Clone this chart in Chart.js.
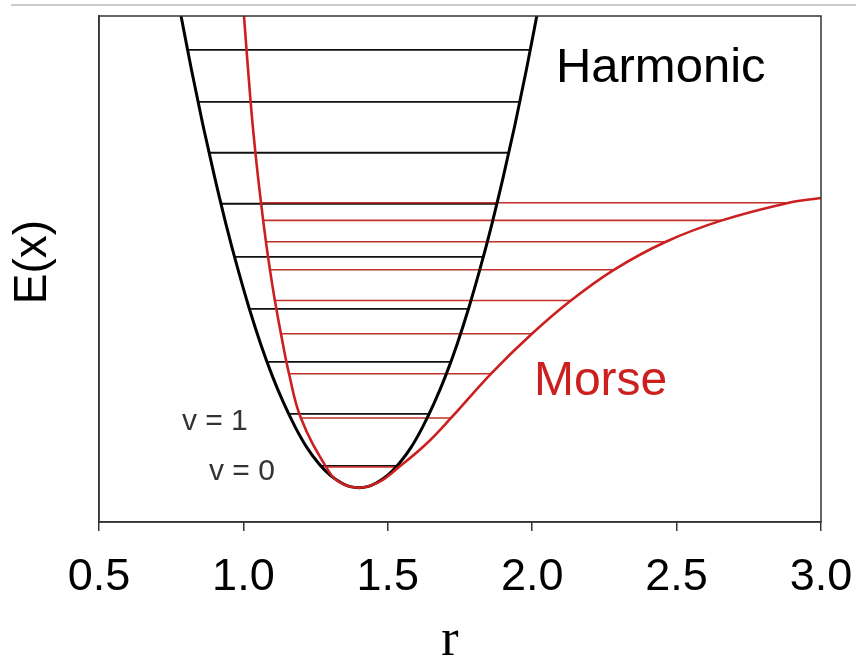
<!DOCTYPE html>
<html>
<head>
<meta charset="utf-8">
<title>Harmonic vs Morse potential</title>
<script src="https://cdn.jsdelivr.net/npm/chart.js@4.4.1/dist/chart.umd.min.js"></script>
<style>
  html, body { margin: 0; padding: 0; background: #fff; }
  #wrap { position: relative; width: 856px; height: 657px; }
  #topline { position: absolute; left: 11px; right: 0; top: 4px; border-top: 2px solid #c8ccd1; }
</style>
</head>
<body>
<div id="wrap">
  <canvas id="potChart" width="856" height="657"></canvas>
  <div id="topline"></div>
</div>
<script>
// x axis ticks (r)
const rTicks = [0.5, 1.0, 1.5, 2.0, 2.5, 3.0];

// harmonic potential curve
const harmonicR = [0.78, 0.82, 0.86, 0.90, 0.94, 0.98, 1.02, 1.06, 1.10, 1.14, 1.18, 1.22, 1.26, 1.30, 1.34, 1.37, 1.40,
                   1.43, 1.46, 1.50, 1.54, 1.58, 1.62, 1.66, 1.70, 1.74, 1.78, 1.82, 1.86, 1.90, 1.94, 1.98, 2.02];
const harmonicE = [9.25, 8.10, 7.03, 6.04, 5.12, 4.28, 3.51, 2.82, 2.21, 1.68, 1.22, 0.83, 0.53, 0.30, 0.15, 0.08, 0.06,
                   0.08, 0.15, 0.30, 0.53, 0.83, 1.22, 1.68, 2.21, 2.82, 3.51, 4.28, 5.12, 6.04, 7.03, 8.10, 9.25];

// Morse potential curve
const morseR = [1.002, 1.025, 1.042, 1.061, 1.078, 1.092, 1.109, 1.130, 1.158, 1.199, 1.286, 1.331, 1.400,
                1.470, 1.539, 1.629, 1.719, 1.857, 1.999, 2.134, 2.283, 2.463, 2.657, 2.889, 3.000];
const morseE = [9.13, 7.48, 6.48, 5.54, 4.79, 4.25, 3.66, 3.02, 2.25, 1.40, 0.46, 0.17, 0.06,
                0.17, 0.46, 0.88, 1.40, 2.25, 3.02, 3.66, 4.25, 4.79, 5.20, 5.54, 5.63];

// vibrational levels (energy, left turning point, right turning point)
const harmonicLevelE = [0.48, 1.48, 2.48, 3.50, 4.50, 5.52, 6.50, 7.48, 8.48];
const harmonicLevelLeft = [1.264, 1.155, 1.081, 1.021, 0.969, 0.923, 0.881, 0.842, 0.806];
const harmonicLevelRight = [1.536, 1.645, 1.720, 1.779, 1.831, 1.877, 1.919, 1.958, 1.994];

const morseLevelE = [0.46, 1.40, 2.25, 3.02, 3.66, 4.25, 4.79, 5.20, 5.54];
const morseLevelLeft = [1.286, 1.199, 1.158, 1.130, 1.109, 1.092, 1.078, 1.068, 1.061];
const morseLevelRight = [1.539, 1.719, 1.857, 1.999, 2.134, 2.283, 2.463, 2.657, 2.889];

const BLACK = '#000000';
const RED = '#cc1f1f';
const RED_LEVEL = '#c2302b';
const SANS = '"Liberation Sans", Arial, sans-serif';

const toPoints = (xs, ys) => xs.map((x, i) => ({x: x, y: ys[i]}));

// each level is a two-point segment, split from the next one by a null gap
const levelPoints = (energies, lefts, rights) => {
    const pts = [];
    energies.forEach((e, i) => {
        pts.push({x: lefts[i], y: e});
        pts.push({x: rights[i], y: e});
        pts.push({x: rights[i], y: null});
    });
    return pts;
};

const annotations = {
    id: 'annotations',
    afterDraw(chart) {
        const {ctx, chartArea, scales} = chart;
        const px = v => scales.x.getPixelForValue(v);
        const py = v => scales.y.getPixelForValue(v);

        ctx.save();
        // frame round the plot area
        ctx.strokeStyle = '#333';
        ctx.lineWidth = 1.5;
        ctx.strokeRect(chartArea.left, chartArea.top, chartArea.right - chartArea.left, chartArea.bottom - chartArea.top);

        ctx.textAlign = 'left';
        ctx.textBaseline = 'alphabetic';
        ctx.fillStyle = '#000';
        ctx.font = '49px ' + SANS;
        ctx.fillText('Harmonic', px(2.082), py(7.87));

        ctx.fillStyle = RED;
        ctx.font = '48px ' + SANS;
        ctx.fillText('Morse', px(2.006), py(1.85));

        ctx.fillStyle = '#333';
        ctx.font = '30px ' + SANS;
        ctx.fillText('v = 1', px(0.787), py(1.17));
        ctx.fillText('v = 0', px(0.881), py(0.21));

        // axis titles
        ctx.fillStyle = '#000';
        ctx.font = '46px ' + SANS;
        ctx.textAlign = 'center';
        ctx.textBaseline = 'middle';
        ctx.translate(33, 262);
        ctx.rotate(-Math.PI / 2);
        ctx.fillText('E(x)', 0, 0);
        ctx.restore();

        ctx.save();
        ctx.fillStyle = '#000';
        ctx.font = '52px "Liberation Serif", "Times New Roman", serif';
        ctx.textAlign = 'center';
        ctx.textBaseline = 'alphabetic';
        ctx.fillText('r', 450, 655);
        ctx.restore();
    }
};

const config = {
    type: 'scatter',
    data: {
        datasets: [
            {
                label: 'Morse',
                data: toPoints(morseR, morseE),
                showLine: true,
                borderColor: RED,
                borderWidth: 2.6,
                pointRadius: 0,
                tension: 0.4
            },
            {
                label: 'Harmonic',
                data: toPoints(harmonicR, harmonicE),
                showLine: true,
                borderColor: BLACK,
                borderWidth: 3,
                pointRadius: 0,
                cubicInterpolationMode: 'monotone'
            },
            {
                label: 'Morse levels',
                data: levelPoints(morseLevelE, morseLevelLeft, morseLevelRight),
                showLine: true,
                spanGaps: false,
                borderColor: RED_LEVEL,
                borderWidth: 1.6,
                pointRadius: 0
            },
            {
                label: 'Harmonic levels',
                data: levelPoints(harmonicLevelE, harmonicLevelLeft, harmonicLevelRight),
                showLine: true,
                spanGaps: false,
                borderColor: '#111',
                borderWidth: 1.8,
                pointRadius: 0
            }
        ]
    },
    options: {
        responsive: false,
        animation: false,
        layout: { padding: { top: 16, right: 35, left: 0, bottom: 0 } },
        plugins: {
            legend: { display: false },
            tooltip: { enabled: false }
        },
        scales: {
            x: {
                type: 'linear',
                min: 0.5,
                max: 3.0,
                afterBuildTicks: axis => { axis.ticks = rTicks.map(v => ({value: v})); },
                afterFit: axis => {
                    axis.height = 135;
                    axis.paddingLeft = 0;
                    axis.paddingRight = 0;
                },
                ticks: {
                    color: '#000',
                    padding: 20,
                    font: { family: SANS, size: 45 },
                    callback: v => Number(v).toFixed(1)
                },
                grid: { drawOnChartArea: false, drawTicks: true, tickLength: 9, color: '#333', lineWidth: 1.5 },
                border: { color: '#333', width: 1.5 }
            },
            y: {
                type: 'linear',
                min: -0.6,
                max: 9.13,
                afterFit: axis => { axis.width = 99; },
                ticks: { display: false },
                grid: { display: false },
                border: { color: '#333', width: 1.5 }
            }
        }
    },
    plugins: [annotations]
};

new Chart(document.getElementById('potChart'), config);
</script>
</body>
</html>
